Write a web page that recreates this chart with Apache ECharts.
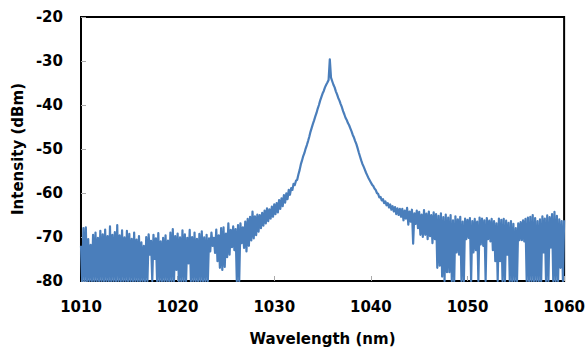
<!DOCTYPE html>
<html>
<head>
<meta charset="utf-8">
<script src="https://cdn.jsdelivr.net/npm/echarts@6/dist/echarts.min.js"></script>
<style>
  html, body { margin: 0; padding: 0; background: #fff; }
  #chart { width: 588px; height: 351px; }
</style>
</head>
<body>
<div id="chart"></div>
<script>
// spectrum sampled every 0.25 nm from 1010 nm
const wavelengthStart = 1010;
const wavelengthStep = 0.25;

// top of each noise excursion (dBm)
const peakTrace = [
  -72.0, -68.0, -67.8, -70.5, -71.8, -69.5, -69.0, -70.2, -68.6, -69.4,
  -68.3, -69.8, -67.6, -69.5, -68.9, -67.3, -69.6, -68.5, -70.1, -68.6,
  -69.3, -70.4, -69.0, -70.6, -69.8, -71.2, -72.0, -70.0, -69.4, -70.9,
  -69.5, -70.3, -69.1, -71.0, -70.2, -69.6, -70.8, -69.0, -68.2, -69.8,
  -69.2, -70.1, -68.5, -69.4, -70.2, -68.4, -70.0, -69.0, -70.4, -69.3,
  -68.7, -70.1, -69.5, -70.3, -69.0, -70.2, -68.3, -69.6, -68.0, -67.8,
  -69.2, -66.9, -68.4, -67.6, -68.2, -67.3, -66.9, -67.8, -66.5, -65.9,
  -65.4, -64.2, -65.3, -64.9, -65.0, -64.5, -64.0, -63.5, -63.7, -63.1,
  -62.6, -62.3, -61.6, -61.2, -60.5, -60.1, -59.3, -58.9, -57.9, -57.2,
  -55.8, -53.5, -51.6, -49.9, -48.2, -46.1, -44.3, -42.6, -40.8, -39.0,
  -37.4, -36.0, -34.9, -29.6, -34.6, -36.0, -37.6, -39.0, -40.5, -42.1,
  -43.4, -44.6, -46.0, -47.4, -48.9, -50.8, -52.6, -54.0, -55.4, -56.6,
  -57.6, -58.4, -59.3, -60.2, -60.9, -61.4, -61.9, -62.3, -62.6, -63.0,
  -63.2, -63.5, -63.6, -63.6, -64.0, -63.4, -64.2, -63.8, -64.6, -64.0,
  -64.3, -64.9, -63.9, -64.7, -64.2, -65.0, -64.4, -64.8, -65.2, -64.6,
  -65.5, -64.9, -65.6, -65.0, -66.2, -65.3, -66.0, -65.4, -66.5, -65.8,
  -66.1, -65.7, -66.4, -65.9, -66.5, -65.6, -65.8, -66.2, -65.7, -66.3,
  -65.9, -66.4, -66.9, -65.8, -66.1, -65.9, -66.3, -66.8, -66.4, -67.0,
  -68.0, -66.9, -66.6, -66.2, -65.9, -65.6, -65.4, -65.0, -65.7, -66.4,
  -66.0, -65.3, -65.8, -65.1, -65.5, -64.8, -64.3, -65.2, -66.0, -66.4,
  -66.2
];

// bottom of each excursion, half a step later (dBm); -80 means it runs off the scale
const floorTrace = [
  -80, -80, -80, -80, -80, -80, -80, -80, -80, -80,
  -80, -80, -80, -80, -80, -80, -80, -80, -80, -80,
  -80, -80, -80, -80, -80, -80, -80, -80, -74, -80,
  -75, -80, -80, -80, -80, -80, -80, -80, -80, -77.5,
  -80, -80, -80, -80, -76, -80, -80, -80, -80, -80,
  -80, -80, -80, -73.3, -72.0, -73.6, -75.5, -77.0, -77.5, -76.8,
  -74.6, -74.0, -72.3, -73.0, -80, -80, -71.4, -72.5, -73.3, -72.0,
  -70.8, -70.3, -69.6, -68.8, -68.0, -67.4, -66.9, -66.4, -65.8, -65.4,
  -64.8, -64.4, -63.6, -63.0, -62.2, -61.4, -60.4, -59.3, -58.2, -57.0,
  -54.8, -52.6, -50.9, -49.1, -47.2, -45.2, -43.5, -41.8, -40.0, -38.2,
  -36.8, -35.4, -34.3, -33.8, -35.4, -36.9, -38.4, -39.8, -41.4, -42.9,
  -44.1, -45.3, -46.8, -48.2, -49.8, -51.7, -53.4, -54.7, -56.0, -57.1,
  -58.1, -59.0, -60.0, -61.0, -61.7, -62.3, -62.8, -63.3, -63.8, -64.2,
  -64.8, -65.0, -65.4, -66.2, -65.8, -67.2, -66.5, -71.5, -67.0, -68.0,
  -69.5, -70.0, -69.5, -70.5, -69.8, -71.4, -70.5, -77.0, -76.5, -79.0,
  -80, -78.0, -78.0, -80, -80, -73.5, -74.0, -80, -80, -70.5,
  -70.2, -80, -73.5, -73.0, -80, -71.7, -72.0, -80, -70.5, -71.0,
  -73.0, -75.5, -80, -75.5, -80, -80, -74.0, -80, -80, -80,
  -80, -70.7, -70.7, -71.0, -80, -80, -80, -80, -80, -80,
  -80, -73.5, -80, -80, -72.4, -80, -80, -80, -77.0, -80,
  -80
];

const xTicks = [1010, 1020, 1030, 1040, 1050, 1060];
const yTicks = [-80, -70, -60, -50, -40, -30, -20];

const points = [];
peakTrace.forEach((v, i) => {
  const x = wavelengthStart + i * wavelengthStep;
  points.push([x, v]);
  if (i < peakTrace.length - 1) {
    points.push([x + wavelengthStep / 2, floorTrace[i]]);
  }
});

const labelFont = {
  fontFamily: 'DejaVu Sans',
  fontWeight: 'bold',
  fontSize: 15,
  color: '#000'
};

const chart = echarts.init(document.getElementById('chart'), null, { renderer: 'svg' });

chart.setOption({
  animation: false,
  backgroundColor: '#fff',
  grid: {
    left: 81,
    right: 21,
    top: 17,
    bottom: 70,
    show: true,
    borderColor: '#000',
    borderWidth: 2,
    backgroundColor: 'transparent'
  },
  xAxis: {
    type: 'value',
    min: xTicks[0],
    max: xTicks[xTicks.length - 1],
    interval: 10,
    name: 'Wavelength (nm)',
    nameLocation: 'middle',
    nameGap: 50,
    nameTextStyle: labelFont,
    axisLine: { show: false },
    axisTick: { show: true, inside: true, length: 5, lineStyle: { color: '#aaa' } },
    axisLabel: Object.assign({ margin: 18, formatter: (v) => String(v) }, labelFont),
    splitLine: { show: false }
  },
  yAxis: {
    type: 'value',
    min: yTicks[0],
    max: yTicks[yTicks.length - 1],
    interval: 10,
    name: 'Intensity (dBm)',
    nameLocation: 'middle',
    nameRotate: 90,
    nameGap: 55,
    nameTextStyle: labelFont,
    axisLine: { show: false },
    axisTick: { show: true, inside: true, length: 5, lineStyle: { color: '#aaa' } },
    axisLabel: Object.assign({ margin: 18 }, labelFont),
    splitLine: { show: false }
  },
  series: [{
    type: 'line',
    data: points,
    showSymbol: false,
    clip: true,
    lineStyle: { color: '#4a7ebb', width: 2.2, join: 'round' }
  }]
});
</script>
</body>
</html>
